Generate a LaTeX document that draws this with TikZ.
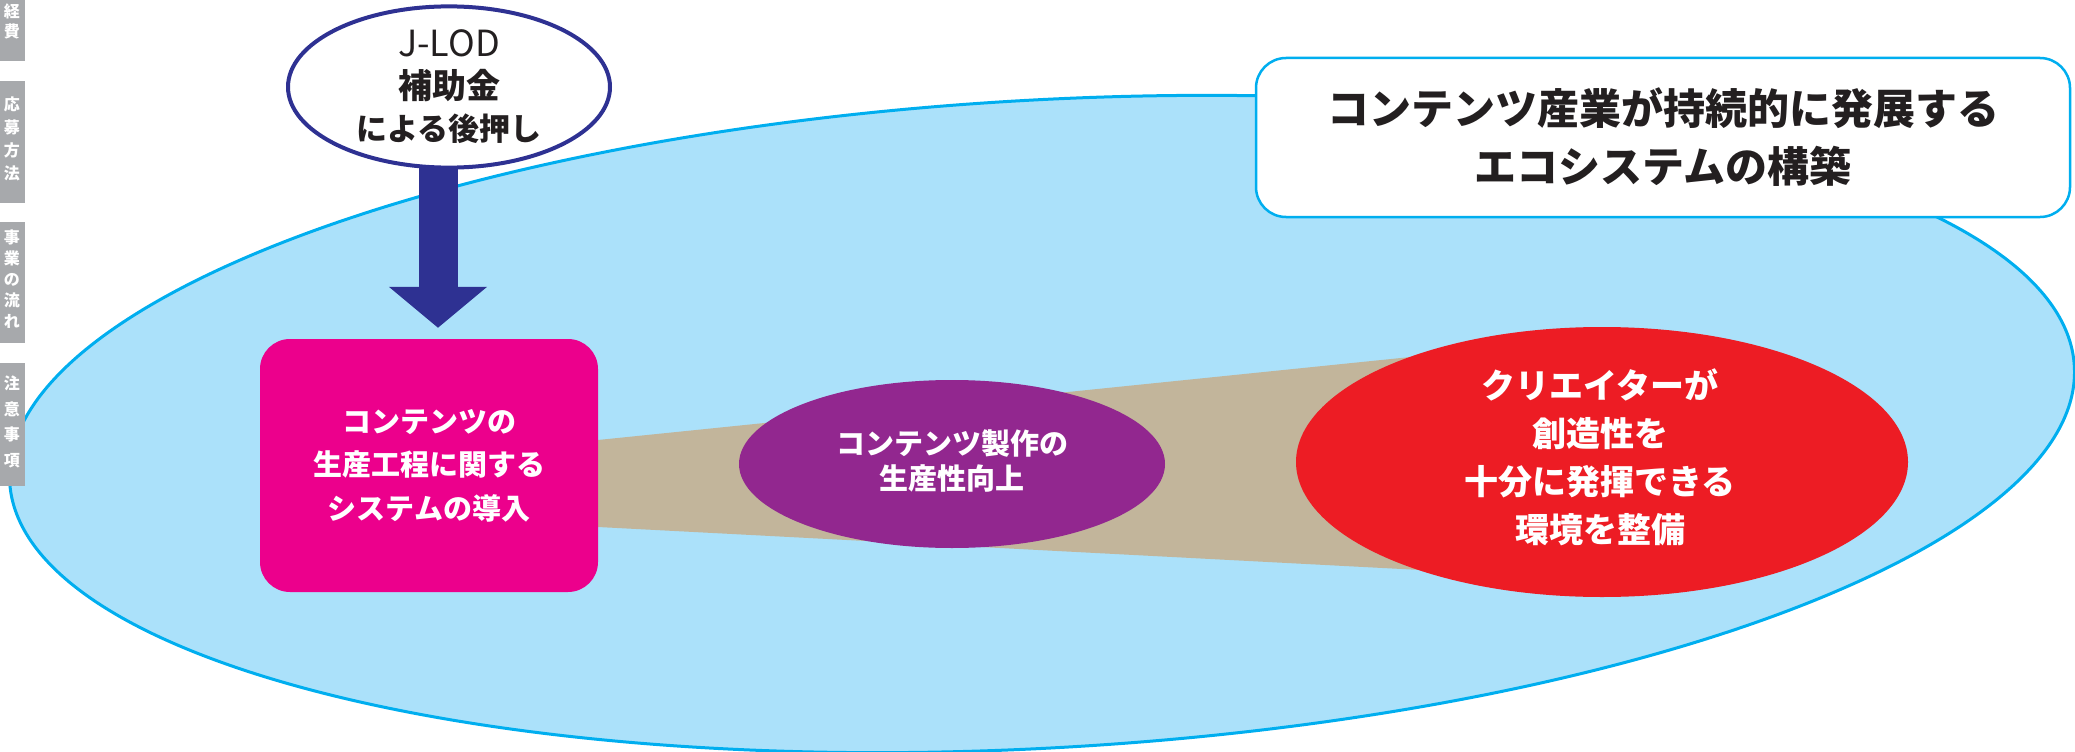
\documentclass[tikz,border=0pt]{standalone}
\usepackage{fontspec}
\setmainfont{Noto Sans CJK JP}
\usetikzlibrary{arrows.meta,shapes.geometric}
\definecolor{skyfill}{HTML}{ABE1FA}
\definecolor{skyline}{HTML}{00AEEF}
\definecolor{cnavy}{HTML}{2E3192}
\definecolor{cmag}{HTML}{EC008C}
\definecolor{cpurple}{HTML}{92278F}
\definecolor{cred}{HTML}{ED1C24}
\definecolor{cbeige}{HTML}{C2B59B}
\definecolor{cgrey}{HTML}{A7A9AC}
\definecolor{ctext}{HTML}{231F20}
\tikzset{
  tabbox/.style={fill=cgrey},
  tabtext/.style={text=white, inner sep=0pt, align=center, font=\bfseries\fontsize{16}{#1}\selectfont},
  whitetxt/.style={text=white, inner sep=0pt, align=center},
  blob/.style={ellipse, inner sep=0pt, draw=none},
}
\begin{document}
\begin{tikzpicture}[x=1pt,y=-1pt]
\useasboundingbox (0,0) rectangle (2075,752);
\clip (0,0) rectangle (2075,752);
% big background ellipse
\draw[fill=skyfill, draw=skyline, line width=3pt, rotate around={3.2:(1042,424)}]
  (1042,424) ellipse [x radius=1034pt, y radius=324pt];
% side tabs
\fill[tabbox] (0,0) rectangle (25,61);
\fill[tabbox] (0,81) rectangle (25,203);
\fill[tabbox] (0,222) rectangle (25,343);
\fill[tabbox] (0,363) rectangle (25,486);
\node[tabtext=20] (tab1) at (12,21) {経\\費};
\node[tabtext=23] (tab2) at (12,139) {応\\募\\方\\法};
\node[tabtext=21] (tab3) at (12,279) {事\\業\\の\\流\\れ};
\node[tabtext=25.5] (tab4) at (12,422) {注\\意\\事\\項};
% beige wedge
\fill[cbeige] (598,440) -- (1440,354) -- (1440,571) -- (598,527) -- cycle;
% magenta box
\node[fill=cmag, rounded corners=30pt, minimum width=338pt, minimum height=253pt,
  whitetxt, font=\bfseries\fontsize{29}{43.5}\selectfont] (sys) at (429,465.5)
  {コンテンツの\\生産工程に関する\\システムの導入};
% purple ellipse
\node[blob, fill=cpurple, minimum width=426pt, minimum height=168pt] (prod) at (952,464) {};
\node[whitetxt, font=\bfseries\fontsize{29}{35}\selectfont] (prodtxt) at (952,460.5)
  {コンテンツ製作の\\生産性向上};
% red ellipse
\node[blob, fill=cred, minimum width=612pt, minimum height=270pt] (env) at (1602,462) {};
\node[whitetxt, font=\bfseries\fontsize{34}{48}\selectfont] (envtxt) at (1600,457)
  {クリエイターが\\創造性を\\十分に発揮できる\\環境を整備};
% goal box
\node[draw=skyline, line width=2.5pt, fill=white, rounded corners=30pt,
  minimum width=814pt, minimum height=159pt, align=center, text=ctext,
  font=\bfseries\fontsize{42}{58}\selectfont] (goal) at (1663,137.5)
  {コンテンツ産業が持続的に発展する\\エコシステムの構築};
% J-LOD ellipse
\node[ellipse, draw=cnavy, line width=4pt, fill=white, minimum width=322pt,
  minimum height=150pt, inner sep=0pt, align=center, text=ctext,
  font=\fontsize{31}{42}\selectfont] (jlod) at (449,87)
  {{\fontsize{36}{42}\selectfont J-LOD}\\{\bfseries\fontsize{34}{42}\selectfont 補助金}\\{\bfseries による後押し}};
% arrow
\coordinate (ax) at (438,0);
\draw[cnavy, line width=39pt, -{Triangle[width=96pt,length=41pt]}, shorten >=11pt, shorten <=-3pt]
  (jlod.south -| ax) -- (sys.north -| ax);
\end{tikzpicture}
\end{document}
